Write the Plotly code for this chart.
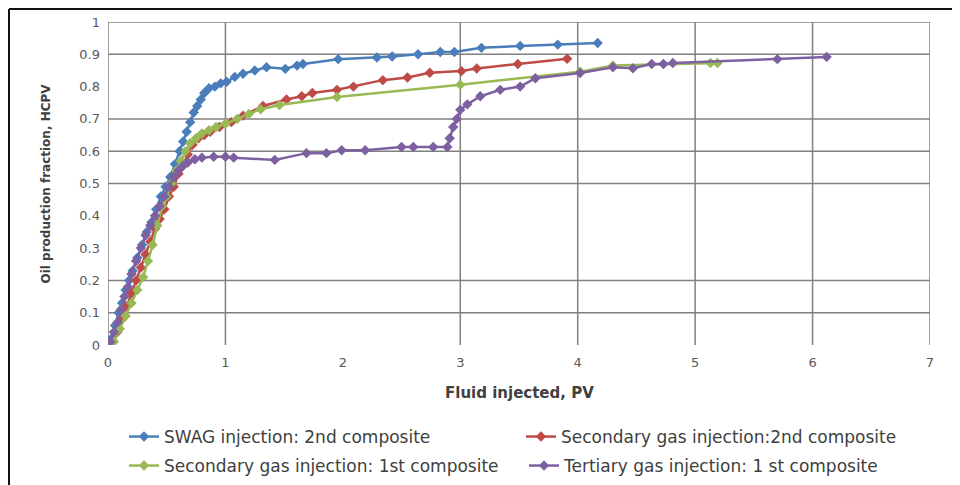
import plotly.graph_objects as go

# ---------------- data ----------------
swag_x = [0.03, 0.06, 0.09, 0.12, 0.15, 0.18, 0.21, 0.25, 0.29, 0.33, 0.37, 0.41, 0.45, 0.49,
          0.53, 0.57, 0.61, 0.64, 0.67, 0.70, 0.73, 0.76, 0.79, 0.82, 0.86, 0.91, 0.96, 1.01,
          1.08, 1.15, 1.25, 1.35, 1.51, 1.61, 1.66, 1.96, 2.29, 2.42, 2.64, 2.83, 2.95, 3.18,
          3.51, 3.83, 4.17]
swag_y = [0.02, 0.06, 0.10, 0.13, 0.17, 0.20, 0.23, 0.27, 0.31, 0.35, 0.38, 0.42, 0.46, 0.49,
          0.52, 0.56, 0.60, 0.63, 0.66, 0.69, 0.72, 0.74, 0.76, 0.78, 0.795, 0.80, 0.81, 0.815,
          0.83, 0.84, 0.85, 0.86, 0.855, 0.865, 0.87, 0.885, 0.89, 0.893, 0.90, 0.907, 0.907,
          0.92, 0.926, 0.93, 0.935]

sec2_x = [0.04, 0.08, 0.12, 0.16, 0.20, 0.24, 0.28, 0.32, 0.36, 0.40, 0.44, 0.48, 0.52, 0.56,
          0.60, 0.64, 0.68, 0.72, 0.77, 0.82, 0.87, 0.95, 1.05, 1.15, 1.32, 1.52, 1.65, 1.74,
          1.95, 2.09, 2.34, 2.55, 2.74, 3.01, 3.14, 3.49, 3.91]
sec2_y = [0.01, 0.04, 0.08, 0.12, 0.16, 0.20, 0.24, 0.28, 0.32, 0.36, 0.39, 0.42, 0.46, 0.49,
          0.53, 0.56, 0.59, 0.62, 0.64, 0.65, 0.66, 0.675, 0.69, 0.71, 0.74, 0.76, 0.77, 0.78,
          0.79, 0.80, 0.82, 0.828, 0.843, 0.848, 0.856, 0.87, 0.886]

sec1_x = [0.05, 0.10, 0.15, 0.20, 0.25, 0.30, 0.34, 0.38, 0.42, 0.46, 0.50, 0.54, 0.58, 0.62,
          0.66, 0.70, 0.75, 0.80, 0.86, 0.92, 1.00, 1.10, 1.20, 1.30, 1.46, 1.95, 3.00, 4.02,
          4.30, 5.13, 5.19]
sec1_y = [0.01, 0.05, 0.09, 0.13, 0.17, 0.21, 0.26, 0.31, 0.37, 0.43, 0.46, 0.50, 0.54, 0.57,
          0.60, 0.625, 0.64, 0.655, 0.665, 0.675, 0.685, 0.70, 0.715, 0.73, 0.743, 0.768,
          0.806, 0.846, 0.865, 0.873, 0.873]

ter1_x = [0.02, 0.05, 0.08, 0.11, 0.14, 0.17, 0.20, 0.24, 0.28, 0.32, 0.36, 0.40, 0.44, 0.48,
          0.52, 0.56, 0.60, 0.64, 0.68, 0.74, 0.80, 0.90, 1.00, 1.07, 1.42, 1.69, 1.86, 1.99,
          2.19, 2.50, 2.60, 2.77, 2.89, 2.91, 2.94, 2.97, 3.00, 3.06, 3.17, 3.34, 3.51, 3.64,
          4.02, 4.30, 4.47, 4.63, 4.73, 4.81, 5.70, 6.12]
ter1_y = [0.01, 0.04, 0.07, 0.11, 0.15, 0.18, 0.22, 0.26, 0.30, 0.34, 0.37, 0.40, 0.43, 0.46,
          0.49, 0.52, 0.54, 0.555, 0.565, 0.575, 0.58, 0.583, 0.583, 0.58, 0.573, 0.594, 0.594,
          0.603, 0.603, 0.613, 0.613, 0.613, 0.613, 0.64, 0.675, 0.70, 0.728, 0.745, 0.77,
          0.79, 0.80, 0.826, 0.842, 0.86, 0.857, 0.87, 0.87, 0.873, 0.885, 0.892]

series_names = ["SWAG injection: 2nd composite",
                "Secondary gas injection:2nd composite",
                "Secondary gas injection: 1st composite",
                "Tertiary gas injection: 1 st composite"]
series_colors = ["#4A7EBB", "#BE4B48", "#98B954", "#7D60A0"]

x_ticks = [0, 1, 2, 3, 4, 5, 6, 7]
y_ticks = [0, 0.1, 0.2, 0.3, 0.4, 0.5, 0.6, 0.7, 0.8, 0.9, 1.0]
y_ticktext = ["0", "0.1", "0.2", "0.3", "0.4", "0.5", "0.6", "0.7", "0.8", "0.9", "1"]
# gridlines that are visible in the reference
grid_x = [0, 1, 3, 4, 5, 6, 7]
grid_y = [0.1, 0.2, 0.5, 0.6, 0.7, 0.9, 1.0]

x_title = "Fluid injected, PV"
y_title = "Oil production fraction, HCPV"

# ---------------- figure ----------------
OFF = 8                      # the page body margin shifts the figure by 8 px
W, H = 960 - OFF, 485 - OFF
ML, MR, MT, MB = 108 - OFF, 30, 22 - OFF, 140
PW, PH = W - ML - MR, H - MT - MB


def px_x(p):
    """page x pixel -> paper coordinate"""
    return (p - OFF - ML) / PW


def px_y(p):
    """page y pixel -> paper coordinate"""
    return (H - MB - (p - OFF)) / PH


fig = go.Figure()
data = [(swag_x, swag_y), (sec2_x, sec2_y), (sec1_x, sec1_y), (ter1_x, ter1_y)]
legends = ["legend", "legend2", "legend3", "legend4"]
for (xs, ys), name, col, lg in zip(data, series_names, series_colors, legends):
    fig.add_trace(go.Scatter(
        x=xs, y=ys, name=name, mode="lines+markers",
        line=dict(color=col, width=2.5),
        marker=dict(symbol="diamond", size=8, color=col, line=dict(width=0)),
        legend=lg,
    ))

shapes = []
for gx in grid_x:
    shapes.append(dict(type="line", xref="x", yref="y", x0=gx, x1=gx, y0=0, y1=1,
                       line=dict(color="#808080", width=1.5), layer="below"))
for gy in grid_y:
    shapes.append(dict(type="line", xref="x", yref="y", x0=0, x1=7, y0=gy, y1=gy,
                       line=dict(color="#808080", width=1.5), layer="below"))
# outer frame of the picture (top and left edges visible)
shapes.append(dict(type="line", xref="paper", yref="paper", x0=px_x(9), x1=px_x(970),
                   y0=px_y(9), y1=px_y(9), line=dict(color="#111111", width=2)))
shapes.append(dict(type="line", xref="paper", yref="paper", x0=px_x(9), x1=px_x(9),
                   y0=px_y(9), y1=px_y(490), line=dict(color="#111111", width=2)))

tick_font = dict(family="DejaVu Sans", size=13, color="#595959")
legend_font = dict(family="DejaVu Sans", size=17, color="#404040")

legend_pos = [(124, 437), (521, 437), (124, 466), (524, 466)]
legend_cfg = {}
for lg, (lx, ly) in zip(legends, legend_pos):
    legend_cfg[lg] = dict(orientation="h", x=px_x(lx), y=px_y(ly), xanchor="left",
                          yanchor="middle", font=legend_font, bgcolor="rgba(0,0,0,0)")

fig.update_layout(
    width=W, height=H,
    margin=dict(l=ML, r=MR, t=MT, b=MB, pad=0, autoexpand=False),
    paper_bgcolor="white", plot_bgcolor="white",
    shapes=shapes,
    xaxis=dict(range=[0, 7], tickvals=x_ticks, showgrid=False, zeroline=False,
               showline=False, ticks="", tickfont=tick_font, ticklabelstandoff=8,
               fixedrange=True),
    yaxis=dict(range=[0, 1], tickvals=y_ticks, ticktext=y_ticktext, showgrid=False,
               zeroline=False, showline=False, ticks="", tickfont=tick_font,
               ticklabelstandoff=7, fixedrange=True),
    annotations=[
        dict(text="<b>" + x_title + "</b>", xref="paper", yref="paper", x=0.5, y=px_y(393),
             xanchor="center", yanchor="middle", showarrow=False,
             font=dict(family="DejaVu Sans", size=15, color="#404040")),
        dict(text="<b>" + y_title + "</b>", xref="paper", yref="paper", x=px_x(45), y=0.5,
             xanchor="center", yanchor="middle", showarrow=False, textangle=-90,
             font=dict(family="DejaVu Sans", size=12, color="#404040")),
    ],
    showlegend=True,
    **legend_cfg,
)

fig.write_html("out.html")
